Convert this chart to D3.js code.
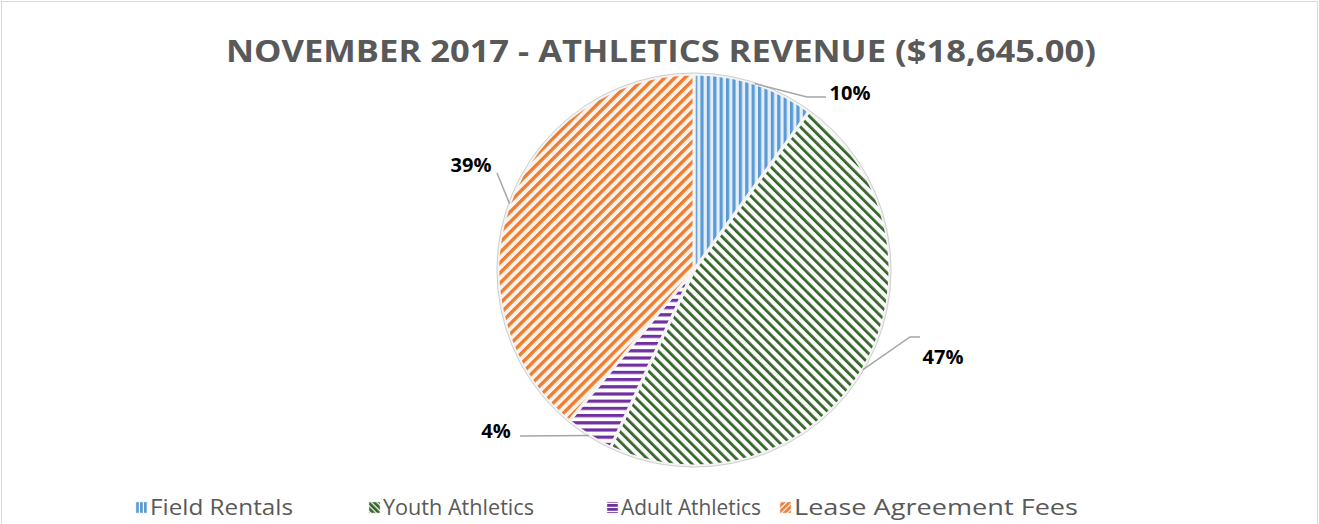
<!DOCTYPE html>
<html>
<head>
<meta charset="utf-8">
<script src="https://cdn.jsdelivr.net/npm/d3@7"></script>
<style>
  html, body { margin: 0; padding: 0; background: #fff; }
  svg { display: block; }
</style>
</head>
<body>
<svg id="chart" width="1319" height="524"></svg>
<script>
// Revenue breakdown for November 2017
const categories = ["Field Rentals", "Youth Athletics", "Adult Athletics", "Lease Agreement Fees"];
const shares = [10, 47, 4, 39];
const labels = ["10%", "47%", "4%", "39%"];
const colors = ["#5b9bd5", "#35652a", "#7030a0", "#ed7d31"];
const titleText = "NOVEMBER 2017 - ATHLETICS REVENUE ($18,645.00)";

const W = 1319, H = 524;
const svg = d3.select("#chart");

// Outer chart frame
svg.append("rect")
  .attr("x", 1.5).attr("y", 1.5)
  .attr("width", W - 3).attr("height", H + 10)
  .attr("fill", "#fff").attr("stroke", "#d9d9d9").attr("stroke-width", 1);

// Stripe patterns, one per category (slice-sized and legend-sized)
const defs = svg.append("defs");
const patternSpecs = [
  { rotate: 0,   period: 6.4, width: 3.2, bg: "#e4eef9" },  // vertical
  { rotate: -45, period: 7,   width: 2.8, bg: "#ffffff" },  // "\" diagonal
  { rotate: 90,  period: 7.2, width: 3.2, bg: "#ffffff" },  // horizontal
  { rotate: 45,  period: 7.2, width: 3.4, bg: "#fdf3ec" }   // "/" diagonal
];
function addPattern(id, p, color) {
  const pat = defs.append("pattern")
    .attr("id", id)
    .attr("patternUnits", "userSpaceOnUse")
    .attr("width", p.period).attr("height", p.period)
    .attr("patternTransform", `rotate(${p.rotate})`);
  pat.append("rect").attr("width", p.period).attr("height", p.period).attr("fill", p.bg);
  pat.append("rect").attr("x", 0).attr("y", 0)
    .attr("width", p.width).attr("height", p.period)
    .attr("fill", color);
}
patternSpecs.forEach((p, i) => {
  addPattern("pat" + i, p, colors[i]);
  addPattern("leg" + i, { rotate: p.rotate, period: 4, width: 2.8, bg: "#ffffff" }, colors[i]);
});

// Title
svg.append("text")
  .attr("x", 661).attr("y", 62)
  .attr("text-anchor", "middle")
  .attr("font-family", "'Open Sans', sans-serif")
  .attr("font-weight", "bold")
  .attr("font-size", 31)
  .attr("fill", "#595959")
  .attr("textLength", 870).attr("lengthAdjust", "spacingAndGlyphs")
  .text(titleText);

// Pie
const cx = 694, cy = 270, r = 196;
const pie = d3.pie().sort(null).value(d => d);
const arcs = pie(shares);
const arc = d3.arc().innerRadius(0).outerRadius(r);

const g = svg.append("g").attr("transform", `translate(${cx},${cy})`);
g.selectAll("path.slice")
  .data(arcs)
  .enter().append("path")
  .attr("class", "slice")
  .attr("d", arc)
  .attr("fill", (d, i) => `url(#pat${i})`)
  .attr("stroke", "#f4f4f4")
  .attr("stroke-width", 3);

g.append("circle").attr("r", r + 1)
  .attr("fill", "none").attr("stroke", "#cfcfcf").attr("stroke-width", 1);

// Data labels with leader lines
const labelPos = [
  { x: 850, y: 100, line: [[807, 97], [826, 97]] },
  { x: 943, y: 364, line: [[910, 337], [920, 337]] },
  { x: 496, y: 438, line: [[520, 436], [520, 436]] },
  { x: 471, y: 172, line: [[497, 173], [497, 173]] }
];
arcs.forEach((d, i) => {
  const mid = (d.startAngle + d.endAngle) / 2;
  const px = cx + r * Math.sin(mid);
  const py = cy - r * Math.cos(mid);
  const lp = labelPos[i];
  svg.append("path")
    .attr("d", d3.line()([[px, py], lp.line[0], lp.line[1]]))
    .attr("fill", "none")
    .attr("stroke", "#a6a6a6")
    .attr("stroke-width", 1.5);
  svg.append("text")
    .attr("x", lp.x).attr("y", lp.y)
    .attr("text-anchor", "middle")
    .attr("font-family", "'Open Sans', sans-serif")
    .attr("font-weight", "bold")
    .attr("font-size", 20)
    .attr("fill", "#000")
    .text(labels[i]);
});

// Legend
const legendX = [136, 369, 607, 780];
const legendW = [143, 151, 140, 284];
const legend = svg.append("g");
categories.forEach((c, i) => {
  legend.append("rect")
    .attr("x", legendX[i]).attr("y", 502)
    .attr("width", 11).attr("height", 11)
    .attr("fill", `url(#leg${i})`)
    .attr("stroke", "#d9d9d9").attr("stroke-width", 0.5);
  legend.append("text")
    .attr("x", legendX[i] + 14).attr("y", 515)
    .attr("font-family", "'Open Sans', sans-serif")
    .attr("font-size", 21)
    .attr("fill", "#595959")
    .attr("textLength", legendW[i]).attr("lengthAdjust", "spacingAndGlyphs")
    .text(c);
});
</script>
</body>
</html>
